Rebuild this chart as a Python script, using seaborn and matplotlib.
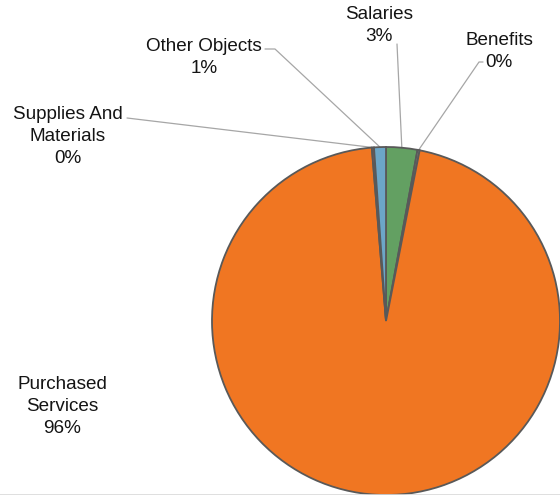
import numpy as np
import matplotlib
matplotlib.use("Agg")
import matplotlib.pyplot as plt
from matplotlib.lines import Line2D
import seaborn as sns

# Budget shares by object (percent)
categories = ["Salaries", "Benefits", "Purchased Services",
              "Supplies And Materials", "Other Objects"]
shares = [2.9, 0.2, 95.6, 0.2, 1.1]
label_names = ["Salaries", "Benefits", "Purchased\nServices",
               "Supplies And\nMaterials", "Other Objects"]
slice_colors = ["#63a062", "#8c8c8c", "#f07622", "#c0504d", "#6ca6c8"]

sns.set_theme(style="white")
plt.rcParams["font.family"] = ["Liberation Sans", "DejaVu Sans"]

W, H = 560, 495
fig = plt.figure(figsize=(W / 100, H / 100), dpi=100)
ax = fig.add_axes([0, 0, 1, 1])
ax.set_xlim(0, W)
ax.set_ylim(0, H)
ax.set_axis_off()


def py(y):
    """Convert a top-down pixel row to axis units."""
    return H - y


cx, cy, r = 386, py(321), 174
wedges, _ = ax.pie(shares, colors=slice_colors, startangle=90, counterclock=False,
                   center=(cx, cy), radius=r,
                   wedgeprops=dict(edgecolor="#595959", linewidth=1.3))
ax.set_xlim(0, W)
ax.set_ylim(0, H)
ax.set_aspect("equal")


def edge_point(w):
    mid = np.deg2rad((w.theta1 + w.theta2) / 2)
    return cx + r * np.cos(mid), cy + r * np.sin(mid)


# label anchor (center x, last-line baseline) and leader path start
label_pos = {
    "Salaries": (379, 41),
    "Benefits": (499, 67),
    "Purchased Services": (62, 433),
    "Supplies And Materials": (68, 163),
    "Other Objects": (204, 73),
}
leader_start = {
    "Salaries": [(397, 44)],
    "Benefits": [(483, 62), (479, 62)],
    "Supplies And Materials": [(127, 118)],
    "Other Objects": [(265, 49), (275, 49)],
}

for cat, name, val, w in zip(categories, label_names, shares, wedges):
    x, y = label_pos[cat]
    ax.text(x, py(y), f"{name}\n{val:.0f}%", ha="center", va="baseline",
            fontsize=13.6, color="#141414", linespacing=1.38,
            multialignment="center")
    if cat in leader_start:
        pts = [(px, py(yy)) for px, yy in leader_start[cat]] + [edge_point(w)]
        xs, ys = zip(*pts)
        ax.plot(xs, ys, color="#a6a6a6", linewidth=0.9, zorder=0.5)

fig.add_artist(Line2D([0, 1], [0.5 / H, 0.5 / H], transform=fig.transFigure,
                      color="#d9d9d9", linewidth=1.2))

fig.savefig("out.png", dpi=100)
